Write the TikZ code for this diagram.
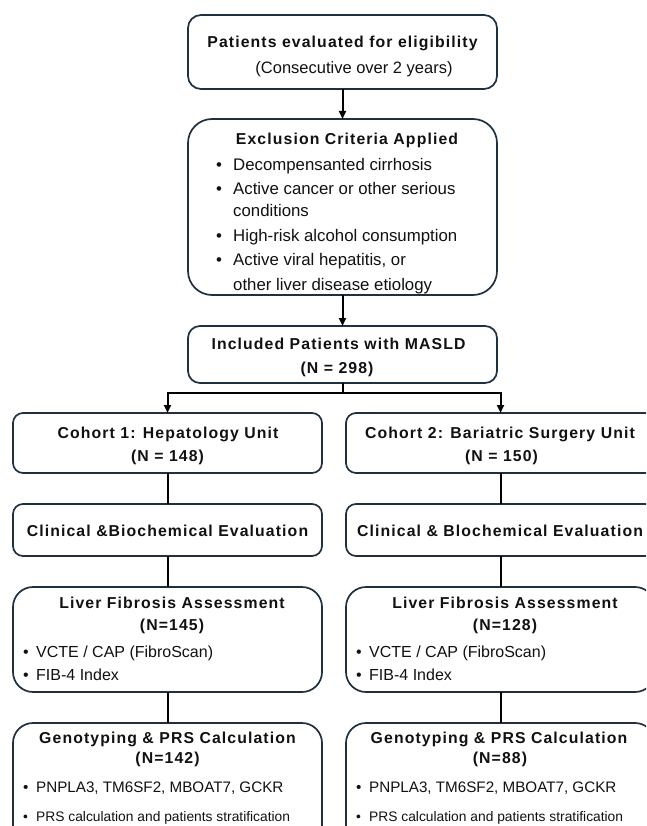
\documentclass[tikz,border=0pt]{standalone}
\usepackage{fontspec}
\setmainfont{Liberation Sans}
\newfontfamily\ttlfont[LetterSpace=7]{Liberation Sans}
\usetikzlibrary{arrows.meta}
\definecolor{bordc}{HTML}{1F3040}
\definecolor{txtc}{HTML}{111111}
\newcommand\bulA{\makebox[17pt][l]{\textbullet}}
\newcommand\bulB{\makebox[13pt][l]{\textbullet}}
\tikzset{
  box/.style={draw=bordc, line width=1.7pt, rounded corners=#1, minimum width=309pt,
    inner sep=0pt, outer sep=0pt, fill=white},
  box/.default=12pt,
  ttl/.style={font=\ttlfont\bfseries\fontsize{15.8}{18}\selectfont, text=txtc, inner sep=0pt, anchor=base},
  regc/.style={font=\fontsize{16.5}{19}\selectfont, text=txtc, inner sep=0pt, anchor=base},
  reg/.style={font=\fontsize{16.8}{19}\selectfont, text=txtc, inner sep=0pt, anchor=base west},
  regs/.style={font=\fontsize{16}{19}\selectfont, text=txtc, inner sep=0pt, anchor=base west},
  regg/.style={font=\fontsize{15.2}{18}\selectfont, text=txtc, inner sep=0pt, anchor=base west},
  regt/.style={font=\fontsize{13.8}{16}\selectfont, text=txtc, inner sep=0pt, anchor=base west},
  conn/.style={line width=2pt, draw=black},
  arr/.style={conn, -{Triangle[length=8pt,width=7pt]}},
}
\begin{document}
\begin{tikzpicture}[x=1pt,y=-1pt]
\useasboundingbox (0,0) rectangle (646,826);
\fill[white] (0,0) rectangle (646,826);
\clip (0,0) rectangle (646,826);

% boxes
\node[box=13pt, minimum height=74pt]  (top)  at (342.5,52) {};
\node[box=24pt, minimum height=176pt] (excl) at (342.5,207) {};
\node[box=12pt, minimum height=57pt]  (incl) at (342.5,354.5) {};
\node[box=10pt, minimum height=60pt]  (coh1) at (167.5,443) {};
\node[box=10pt, minimum height=60pt]  (coh2) at (500.5,443) {};
\node[box=10pt, minimum height=52pt]  (clin1) at (167.5,530) {};
\node[box=10pt, minimum height=52pt]  (clin2) at (500.5,530) {};
\node[box=20pt, minimum height=105pt] (liv1) at (167.5,639.5) {};
\node[box=20pt, minimum height=105pt] (liv2) at (500.5,639.5) {};
\node[box=20pt, minimum height=130pt] (gen1) at (167.5,788) {};
\node[box=20pt, minimum height=130pt] (gen2) at (500.5,788) {};

% connectors
\coordinate (br) at (342.5,393);
\draw[arr] (top) -- (excl);
\draw[arr] (excl) -- (incl);
\draw[arr] (incl.south) -- (br) -| (coh1.north);
\draw[arr] (br) -| (coh2.north);
\draw[conn] (coh1) -- (clin1);
\draw[conn] (coh2) -- (clin2);
\draw[conn] (clin1) -- (liv1);
\draw[conn] (clin2) -- (liv2);
\draw[conn] (liv1) -- (gen1);
\draw[conn] (liv2) -- (gen2);

% top
\node[ttl]  (t1) at (342.5,47.5) {Patients evaluated for eligibility};
\node[regc] (t2) at (354,74) {(Consecutive over 2 years)};

% exclusion
\node[ttl] (x0) at (347,144.5) {Exclusion Criteria Applied};
\node[reg] (x1) at (216,171) {\bulA Decompensanted cirrhosis};
\node[reg] (x2) at (216,195) {\bulA Active cancer or other serious};
\node[reg] (x3) at (233,216) {conditions};
\node[reg] (x4) at (216,241) {\bulA High-risk alcohol consumption};
\node[reg] (x5) at (216,265) {\bulA Active viral hepatitis, or};
\node[reg] (x6) at (233,290) {other liver disease etiology};

% included
\node[ttl] (i1) at (338.5,349.5) {Included Patients with MASLD};
\node[ttl] (i2) at (337,373.5) {(N = 298)};

% cohorts
\node[ttl] (c1a) at (168,438.5) {Cohort 1: Hepatology Unit};
\node[ttl] (c1b) at (167.5,461.5) {(N = 148)};
\node[ttl] (c2a) at (500,438.5) {Cohort 2: Bariatric Surgery Unit};
\node[ttl] (c2b) at (501.5,461.5) {(N = 150)};

% clinical
\node[ttl] (k1) at (167.5,536.5) {Clinical \&\hspace{1pt}Biochemical Evaluation};
\node[ttl] (k2) at (500,536.5) {Clinical \& Blochemical Evaluation};

% liver
\node[ttl] (l1a) at (172,608.5) {Liver Fibrosis Assessment};
\node[ttl] (l1b) at (172,630.5) {(N=145)};
\node[regs] (l1c) at (23,657.5) {\bulB VCTE / CAP (FibroScan)};
\node[regs] (l1d) at (23,680.5) {\bulB FIB-4 Index};
\node[ttl] (l2a) at (505,608.5) {Liver Fibrosis Assessment};
\node[ttl] (l2b) at (505,630.5) {(N=128)};
\node[regs] (l2c) at (356,657.5) {\bulB VCTE / CAP (FibroScan)};
\node[regs] (l2d) at (356,680.5) {\bulB FIB-4 Index};

% genotyping
\node[ttl] (g1a) at (167.5,743.5) {Genotyping \& PRS Calculation};
\node[ttl] (g1b) at (167.5,763.5) {(N=142)};
\node[regg] (g1c) at (23,792.5) {\bulB PNPLA3, TM6SF2, MBOAT7, GCKR};
\node[regt] (g1d) at (23,821) {\bulB PRS calculation and patients stratification};
\node[ttl] (g2a) at (499,743.5) {Genotyping \& PRS Calculation};
\node[ttl] (g2b) at (500,763.5) {(N=88)};
\node[regg] (g2c) at (356,792.5) {\bulB PNPLA3, TM6SF2, MBOAT7, GCKR};
\node[regt] (g2d) at (356,821) {\bulB PRS calculation and patients stratification};
\end{tikzpicture}
\end{document}
